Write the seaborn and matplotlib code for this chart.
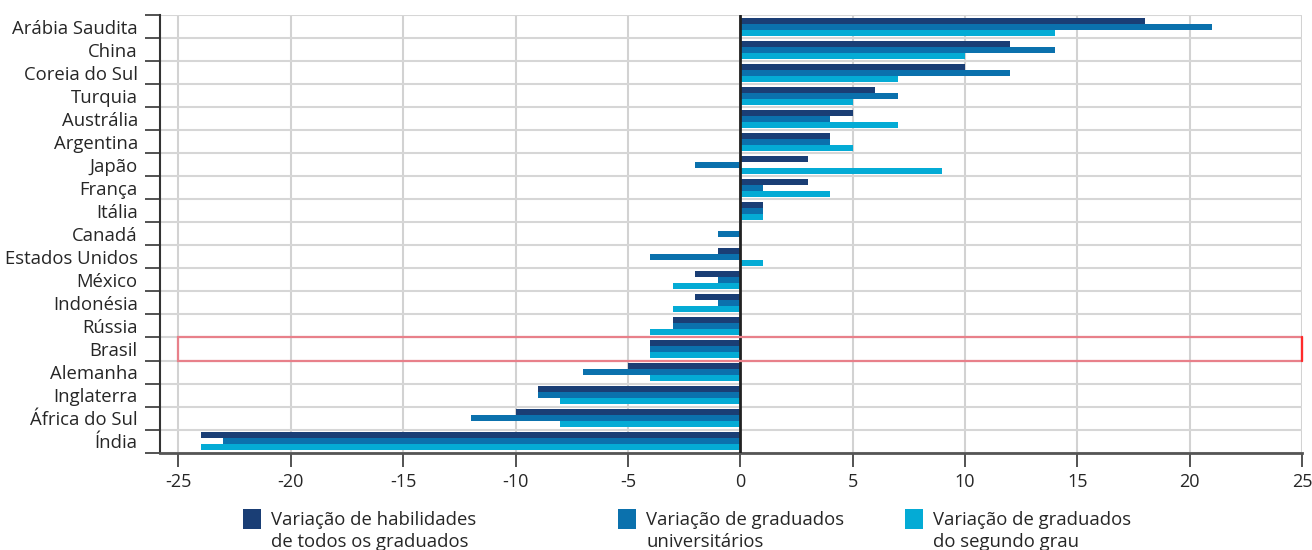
import numpy as np
import pandas as pd
import matplotlib
matplotlib.use("Agg")
import matplotlib.pyplot as plt
import seaborn as sns
from matplotlib.patches import Rectangle
from matplotlib.ticker import FixedLocator

paises = ["Arábia Saudita", "China", "Coreia do Sul", "Turquia", "Austrália",
          "Argentina", "Japão", "França", "Itália", "Canadá", "Estados Unidos",
          "México", "Indonésia", "Rússia", "Brasil", "Alemanha", "Inglaterra",
          "África do Sul", "Índia"]
todos      = [18, 12, 10, 6, 5, 4, 3, 3, 1, 0, -1, -2, -2, -3, -4, -5, -9, -10, -24]
univ       = [21, 14, 12, 7, 4, 4, -2, 1, 1, -1, -4, -1, -1, -3, -4, -7, -9, -12, -23]
segundo    = [14, 10, 7, 5, 7, 5, 9, 4, 1, 0, 1, -3, -3, -4, -4, -4, -8, -8, -24]

series = ["Variação de habilidades\nde todos os graduados",
          "Variação de graduados\nuniversitários",
          "Variação de graduados\ndo segundo grau"]
cores = ["#1a3e75", "#0b71ad", "#04abd5"]

df = pd.DataFrame({
    "pais": paises * 3,
    "valor": todos + univ + segundo,
    "serie": [series[0]] * 19 + [series[1]] * 19 + [series[2]] * 19,
})

sns.set_style("white")
plt.rcParams["font.family"] = ["Open Sans", "DejaVu Sans"]
txt = "#262626"

fig = plt.figure(figsize=(13.12, 5.5), dpi=100)
ax = fig.add_axes([0.122, 0.177, 0.8704, 0.7957])

sns.barplot(data=df, y="pais", x="valor", hue="serie", orient="h",
            palette=cores, width=0.78, legend=False, ax=ax, saturation=1,
            linewidth=0, edgecolor="none", zorder=3)

n = len(paises)
ax.set_xlim(-25.82, 25)
ax.set_ylim(n - 0.5, -0.5)
ax.set_xlabel("")
ax.set_ylabel("")

# grid
for xv in range(-25, 26, 5):
    ax.axvline(xv, color="#d2d2d2", lw=1.5, zorder=1)
for yv in np.arange(-0.5, n, 1.0):
    ax.axhline(yv, color="#d6d6d6", lw=1.5, zorder=1)
ax.axvline(0, color="#222222", lw=2, zorder=4)

# ticks
ax.set_xticks(range(-25, 26, 5))
ax.set_xticklabels([str(v) for v in range(-25, 26, 5)], fontsize=13, color=txt)
ax.tick_params(axis="x", length=10, width=1.3, color="#444444", pad=5, bottom=True)
ax.set_yticks(range(n))
ax.set_yticklabels(paises, fontsize=13.3, color=txt)
ax.tick_params(axis="y", which="major", length=0, pad=16)
ax.yaxis.set_minor_locator(FixedLocator(np.arange(-0.5, n, 1.0)))
ax.tick_params(axis="y", which="minor", length=11, width=1.3, color="#444444", left=True)

for s in ["top", "right"]:
    ax.spines[s].set_visible(False)
ax.spines["left"].set_color("#333333")
ax.spines["left"].set_linewidth(1.5)
ax.spines["bottom"].set_color("#555555")
ax.spines["bottom"].set_linewidth(2)

# destaque Brasil
ib = paises.index("Brasil")
ax.add_patch(Rectangle((-25, ib - 0.5), 50, 1, fill=False, edgecolor="#e8808a",
                       lw=1.6, zorder=5, clip_on=False))
ax.plot([25, 25], [ib - 0.5, ib + 0.5], color="#ff2a2a", lw=1.6, zorder=6,
        clip_on=False)

# legenda
W, H = 1312.0, 550.0
xs = [243, 618, 905]
for x0, lab, c in zip(xs, series, cores):
    fig.add_artist(Rectangle((x0 / W, 1 - 529 / H), 18 / W, 20 / H,
                             transform=fig.transFigure, facecolor=c,
                             edgecolor="none"))
    fig.text((x0 + 28) / W, 1 - 511 / H, lab, fontsize=13.3, color=txt,
             ha="left", va="top", linespacing=1.3)

fig.savefig("out.png", dpi=100)
